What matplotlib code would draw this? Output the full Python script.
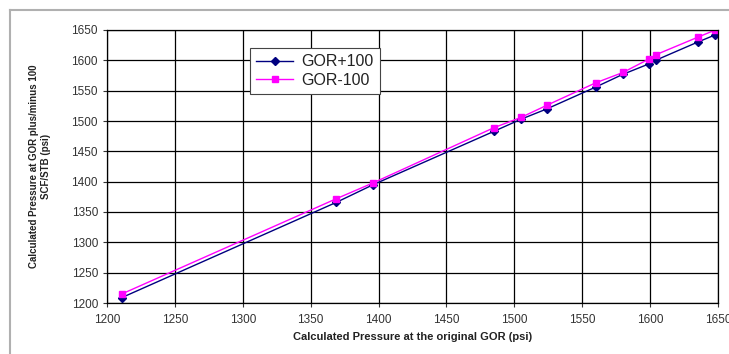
import numpy as np
import matplotlib
matplotlib.use('Agg')
import matplotlib.pyplot as plt
from matplotlib.lines import Line2D

plt.rcParams['font.family'] = ['Liberation Sans', 'DejaVu Sans']

# pressure at original GOR (psi)
p_orig = [1211, 1369, 1396, 1485, 1505, 1524, 1560, 1580, 1599, 1604, 1635, 1648]
# pressure with GOR shifted by +100 / -100 SCF/STB
p_plus = [1209, 1366, 1395, 1483, 1503, 1520, 1556, 1577, 1594, 1600, 1630, 1642]
p_minus = [1215, 1372, 1398, 1489, 1506, 1526, 1563, 1580, 1602, 1609, 1638, 1650]

ticks = np.arange(1200, 1651, 50)

fig = plt.figure(figsize=(7.29, 3.54), dpi=100)

# outer chart frame (only top/left edges fall inside the image)
fig.add_artist(Line2D([10/729, 10/729], [0, 1-10/354], color='#b0b0b0', lw=1.5))
fig.add_artist(Line2D([10/729, 1], [1-10/354, 1-10/354], color='#b0b0b0', lw=1.5))

ax = fig.add_axes([107/729, 1-303/354, (718-107)/729, (303-30)/354])

ax.plot(p_orig, p_plus, color='#000080', lw=1, marker='D', ms=4, label='GOR+100')
ax.plot(p_orig, p_minus, color='#ff00ff', lw=1, marker='s', ms=5, label='GOR-100')

ax.set_xlim(1200, 1650)
ax.set_ylim(1200, 1650)
ax.set_xticks(ticks)
ax.set_yticks(ticks)
ax.grid(True, color='black', lw=0.9)
ax.set_axisbelow(True)
for s in ax.spines.values():
    s.set_color('black')
    s.set_linewidth(0.9)
ax.tick_params(labelsize=8.5, colors='#333333', length=3, width=0.8)
ax.tick_params(axis='x', pad=5)

ax.set_xlabel('Calculated Pressure at the original GOR (psi)', fontsize=8,
              fontweight='bold', color='#222222', labelpad=4)
ax.set_ylabel('Calculated Pressure at GOR plus/minus 100\nSCF/STB (psi)', fontsize=7,
              fontweight='bold', color='#222222', labelpad=15)

leg = ax.legend(loc='upper left', bbox_to_anchor=(0.234, 0.934), borderaxespad=0,
                fontsize=11.5, frameon=True, fancybox=False, edgecolor='#444444',
                handlelength=2.3, borderpad=0.4, labelspacing=0.2, handletextpad=0.5,
                framealpha=1)
leg.get_frame().set_linewidth(0.8)
for t in leg.get_texts():
    t.set_color('#222222')

fig.savefig('out.png', dpi=100)
